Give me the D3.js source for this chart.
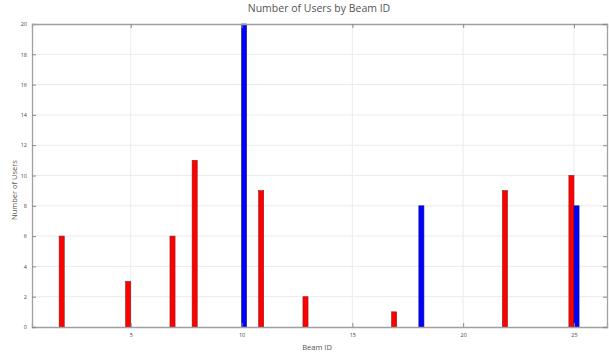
<!DOCTYPE html>
<html>
<head>
<meta charset="utf-8">
<script src="https://cdn.jsdelivr.net/npm/d3@7"></script>
<style>
  body { margin: 0; background: #fff; }
  text { font-family: "Open Sans", "Liberation Sans", sans-serif; }
</style>
</head>
<body>
<div id="chart"></div>
<script>
// beam ids and user counts per series (red left, blue right)
const beamIds = d3.range(1, 27);
const redUsers  = [0,6,0,0,3,0,6,11,0,0,9,0,2,0,0,0,1,0,0,0,0,9,0,0,10,0];
const blueUsers = [0,0,0,0,0,0,0,0,0,20,0,0,0,0,0,0,0,8,0,0,0,0,0,0,8,0];
const xTicks = [5, 10, 15, 20, 25];
const yTicks = d3.range(0, 21, 2);

const outerWidth = 609, outerHeight = 352;
const margin = {top: 24, left: 32, bottom: 25, right: 2};
const width = outerWidth - margin.left - margin.right;
const height = outerHeight - margin.top - margin.bottom;

const svg = d3.select("#chart").append("svg")
    .attr("width", outerWidth)
    .attr("height", outerHeight);

const g = svg.append("g")
    .attr("transform", `translate(${margin.left}, ${margin.top})`);

let xScale = d3.scaleLinear().domain([0.545, 26.49]).range([0, width]);
let yScale = d3.scaleLinear().domain([0, 20]).range([height, 0]);

// grid
g.append("g").selectAll("line")
    .data(yTicks.slice(1, -1))
    .join("line")
    .attr("x1", 0).attr("x2", width)
    .attr("y1", d => yScale(d)).attr("y2", d => yScale(d))
    .attr("stroke", "#ebebeb").attr("stroke-width", 1);
g.append("g").selectAll("line")
    .data(xTicks)
    .join("line")
    .attr("y1", 0).attr("y2", height)
    .attr("x1", d => xScale(d)).attr("x2", d => xScale(d))
    .attr("stroke", "#ebebeb").attr("stroke-width", 1);

const barW = xScale(0.23) - xScale(0);

const data = beamIds.map((b, i) => ({id: b, red: redUsers[i], blue: blueUsers[i]}));

g.append("g").selectAll("rect")
    .data(data.filter(d => d.red > 0))
    .join("rect")
    .attr("x", d => xScale(d.id) - barW)
    .attr("y", d => yScale(d.red))
    .attr("width", barW)
    .attr("height", d => height - yScale(d.red))
    .attr("fill", "#ff0000")
    .attr("stroke", "#8a1a1a").attr("stroke-width", 0.6);

g.append("g").selectAll("rect")
    .data(data.filter(d => d.blue > 0))
    .join("rect")
    .attr("x", d => xScale(d.id))
    .attr("y", d => yScale(d.blue))
    .attr("width", barW)
    .attr("height", d => height - yScale(d.blue))
    .attr("fill", "#0000ff")
    .attr("stroke", "#1a1a6a").attr("stroke-width", 0.6);

// axes (box style)
const axisColor = "#a0a0a0";
const xAxis = d3.axisBottom(xScale).tickValues(xTicks).tickSize(-4).tickPadding(6);
const yAxis = d3.axisLeft(yScale).tickValues(yTicks).tickSize(-4).tickPadding(5);

const gx = g.append("g").attr("transform", `translate(0, ${height})`).call(xAxis);
const gy = g.append("g").call(yAxis);
const gxTop = g.append("g").call(d3.axisTop(xScale).tickValues(xTicks).tickSize(-4).tickFormat(""));
const gyRight = g.append("g").attr("transform", `translate(${width}, 0)`)
    .call(d3.axisRight(yScale).tickValues(yTicks).tickSize(-4).tickFormat(""));

[gx, gy, gxTop, gyRight].forEach(a => {
    a.select(".domain").attr("stroke", axisColor).attr("stroke-width", 1.3);
    a.selectAll(".tick line").attr("stroke", "#8a8a8a");
    a.selectAll(".tick text").attr("fill", "#444").attr("font-size", 5.5);
});

svg.append("text")
    .attr("x", 319).attr("y", 12)
    .attr("text-anchor", "middle")
    .attr("font-size", 10.5)
    .attr("fill", "#555")
    .text("Number of Users by Beam ID");

svg.append("text")
    .attr("x", 317).attr("y", 350)
    .attr("text-anchor", "middle")
    .attr("font-size", 7.5)
    .attr("fill", "#555")
    .text("Beam ID");

svg.append("text")
    .attr("transform", "translate(17, 190) rotate(-90)")
    .attr("text-anchor", "middle")
    .attr("font-size", 7.5)
    .attr("fill", "#555")
    .text("Number of Users");
</script>
</body>
</html>
